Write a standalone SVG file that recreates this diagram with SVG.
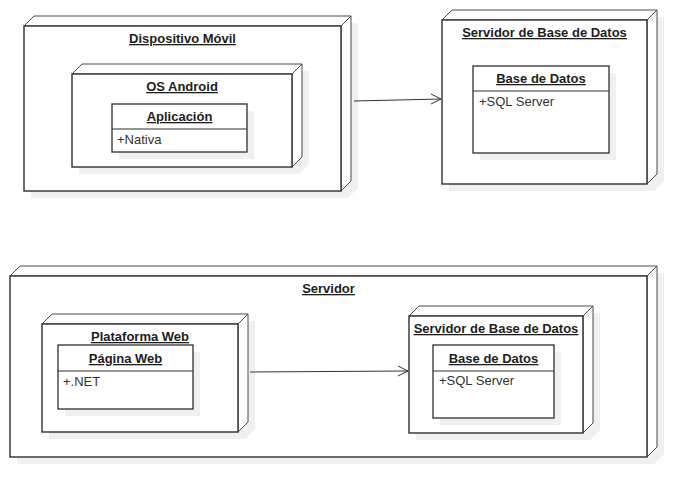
<svg xmlns="http://www.w3.org/2000/svg" width="698" height="498" viewBox="0 0 698 498">
<style>
.bg{fill:#ffffff}
.sh{fill:#f0f0f0;stroke:none}
.face{fill:#ffffff;stroke:#4a4a4a;stroke-width:1}
.front{fill:#ffffff;stroke:#2e2e2e;stroke-width:1.4}
.cls{fill:#ffffff;stroke:#2e2e2e;stroke-width:1.3}
.div{stroke:#2e2e2e;stroke-width:1}
.t{font-family:"Liberation Sans",Arial,sans-serif;font-size:13px;font-weight:bold;fill:#1e1e1e;text-anchor:middle;text-decoration:underline}
.a{font-family:"Liberation Sans",Arial,sans-serif;font-size:13px;fill:#333333}
.conn{stroke:#333333;stroke-width:1;fill:none}
</style>
<rect class="bg" x="0" y="0" width="698" height="498"/>

<g id="dispositivo-movil">
<polygon class="sh" points="31,33 41,23 358,23 358,188 348,198 31,198"/>
<polygon class="face" points="24,26 34,16 351,16 341,26"/>
<polygon class="face" points="341,26 351,16 351,181 341,191"/>
<rect class="front" x="24" y="26" width="317" height="165"/>
<text class="t" x="182.5" y="43">Dispositivo Móvil</text>
</g>

<g id="os-android">
<polygon class="sh" points="79,81 89,71 309,71 309,164 299,174 79,174"/>
<polygon class="face" points="72,74 82,64 302,64 292,74"/>
<polygon class="face" points="292,74 302,64 302,157 292,167"/>
<rect class="front" x="72" y="74" width="220" height="93"/>
<text class="t" x="182" y="91">OS Android</text>
</g>

<g id="aplicacion">
<rect class="sh" x="119" y="111" width="135" height="48"/>
<rect class="cls" x="112" y="104" width="135" height="48"/>
<line class="div" x1="112" y1="129" x2="247" y2="129"/>
<text class="t" x="179.5" y="121">Aplicación</text>
<text class="a" x="117" y="144">+Nativa</text>
</g>

<g id="servidor-bd-1">
<polygon class="sh" points="449,27 459,17 664,17 664,181 654,191 449,191"/>
<polygon class="face" points="442,20 452,10 657,10 647,20"/>
<polygon class="face" points="647,20 657,10 657,174 647,184"/>
<rect class="front" x="442" y="20" width="205" height="164"/>
<text class="t" x="544.5" y="37">Servidor de Base de Datos</text>
</g>

<g id="base-datos-1">
<rect class="sh" x="480" y="73" width="136" height="87"/>
<rect class="cls" x="473" y="66" width="136" height="87"/>
<line class="div" x1="473" y1="91" x2="609" y2="91"/>
<text class="t" x="541" y="83">Base de Datos</text>
<text class="a" x="479" y="106">+SQL Server</text>
</g>

<g id="servidor">
<polygon class="sh" points="17,283 27,273 664,273 664,454 654,464 17,464"/>
<polygon class="face" points="10,276 20,266 657,266 647,276"/>
<polygon class="face" points="647,276 657,266 657,447 647,457"/>
<rect class="front" x="10" y="276" width="637" height="181"/>
<text class="t" x="328.5" y="293">Servidor</text>
</g>

<g id="plataforma-web">
<polygon class="sh" points="49,331 59,321 255,321 255,429 245,439 49,439"/>
<polygon class="face" points="42,324 52,314 248,314 238,324"/>
<polygon class="face" points="238,324 248,314 248,422 238,432"/>
<rect class="front" x="42" y="324" width="196" height="108"/>
<text class="t" x="140" y="341">Plataforma Web</text>
</g>

<g id="pagina-web">
<rect class="sh" x="65" y="352" width="135" height="64"/>
<rect class="cls" x="58" y="345" width="135" height="64"/>
<line class="div" x1="58" y1="371" x2="193" y2="371"/>
<text class="t" x="125.5" y="363">Página Web</text>
<text class="a" x="63" y="386">+.NET</text>
</g>

<g id="servidor-bd-2">
<polygon class="sh" points="416,323 426,313 600,313 600,430 590,440 416,440"/>
<polygon class="face" points="409,316 419,306 593,306 583,316"/>
<polygon class="face" points="583,316 593,306 593,423 583,433"/>
<rect class="front" x="409" y="316" width="174" height="117"/>
<text class="t" x="496" y="333">Servidor de Base de Datos</text>
</g>

<g id="base-datos-2">
<rect class="sh" x="440" y="352" width="121" height="73"/>
<rect class="cls" x="433" y="345" width="121" height="73"/>
<line class="div" x1="433" y1="371" x2="554" y2="371"/>
<text class="t" x="493.5" y="363">Base de Datos</text>
<text class="a" x="439" y="385">+SQL Server</text>
</g>

<g id="connectors">
<line class="conn" x1="354" y1="101" x2="441" y2="99"/>
<polyline class="conn" points="431,94 441,99 431,104"/>
<line class="conn" x1="250" y1="372" x2="408" y2="371"/>
<polyline class="conn" points="398,366 408,371 398,376"/>
</g>
</svg>
